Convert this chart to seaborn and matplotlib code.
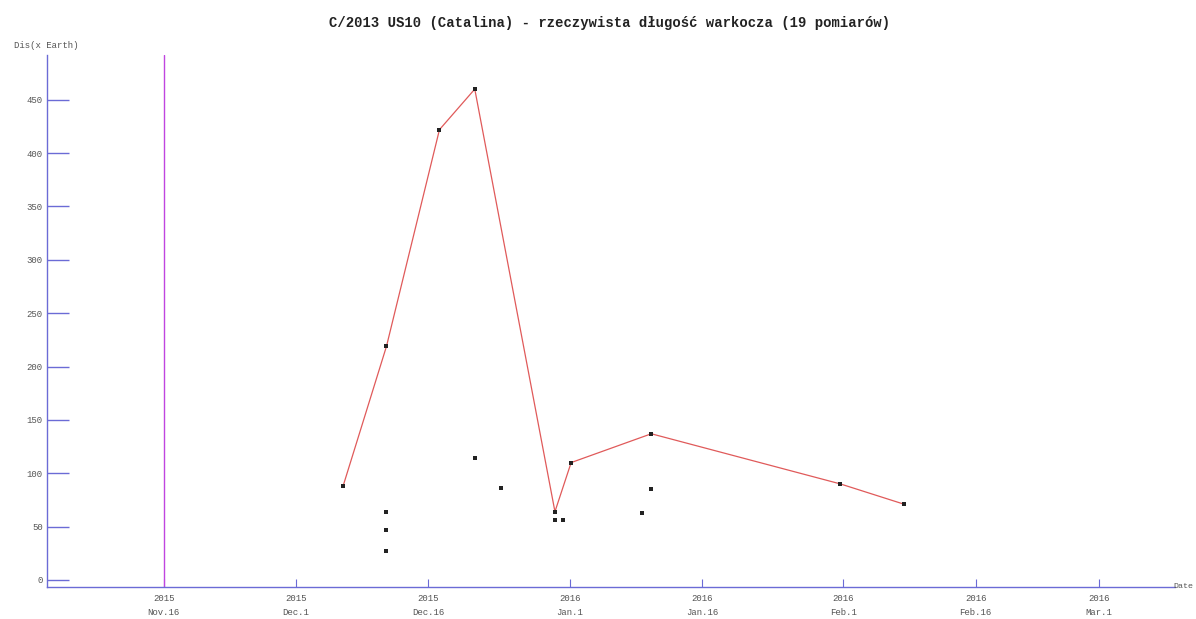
import matplotlib
matplotlib.use("Agg")
import matplotlib.pyplot as plt
import seaborn as sns
import pandas as pd

# ---- data ----
line_dates = ["2015-12-06 08:00", "2015-12-11 06:00", "2015-12-17 06:00", "2015-12-21 06:00",
              "2015-12-30 08:00", "2016-01-01 04:00", "2016-01-10 06:00", "2016-01-31 16:00",
              "2016-02-07 21:00"]
line_values = [88, 219, 422, 460, 64, 110, 137, 90, 71]

extra_dates = ["2015-12-11 06:00", "2015-12-11 06:00", "2015-12-11 06:00", "2015-12-21 06:00",
               "2015-12-24 06:00", "2015-12-30 08:00", "2015-12-31 06:00", "2016-01-09 04:00",
               "2016-01-10 06:00"]
extra_values = [64, 47, 27, 114, 86, 56, 56, 63, 85]

tick_dates = ["2015-11-16", "2015-12-01", "2015-12-16", "2016-01-01", "2016-01-16",
              "2016-02-01", "2016-02-16", "2016-03-01"]
tick_labels = ["2015\nNov.16", "2015\nDec.1", "2015\nDec.16", "2016\nJan.1",
               "2016\nJan.16", "2016\nFeb.1", "2016\nFeb.16", "2016\nMar.1"]
y_ticks = [0, 50, 100, 150, 200, 250, 300, 350, 400, 450]
marker_date = "2015-11-16"

title = "C/2013 US10 (Catalina) - rzeczywista długość warkocza (19 pomiarów)"

# ---- style ----
sns.set_theme(style="white")
plt.rcParams['font.family'] = ['Liberation Mono', 'DejaVu Sans Mono']

axis_col = "#6b6bd6"
label_col = "#555555"

fig = plt.figure(figsize=(11.96, 6.19), dpi=100)
ax = fig.add_axes([0.0393, 0.0517, 0.9431, 0.8595])

line_df = pd.DataFrame({"date": pd.to_datetime(line_dates), "value": line_values})
extra_df = pd.DataFrame({"date": pd.to_datetime(extra_dates), "value": extra_values})
all_df = pd.concat([line_df, extra_df])

sns.lineplot(data=line_df, x="date", y="value", ax=ax, color="#e05a5a",
             linewidth=0.9, zorder=2)
sns.scatterplot(data=all_df, x="date", y="value", ax=ax, color="#222222",
                marker="s", s=7, linewidth=0, zorder=3)

ax.axvline(pd.Timestamp(marker_date), color="#c045e0", linewidth=1.0, zorder=1)

ax.set_xlim(pd.Timestamp("2015-11-02 19:00"), pd.Timestamp("2016-03-09 13:40"))
ax.set_ylim(-6.6, 492)

ax.set_xticks(pd.to_datetime(tick_dates))
ax.set_xticklabels(tick_labels, linespacing=1.7)
ax.set_yticks(y_ticks)
ax.set_yticklabels([str(v) for v in y_ticks])

for s in ["top", "right"]:
    ax.spines[s].set_visible(False)
for s in ["left", "bottom"]:
    ax.spines[s].set_visible(True)
    ax.spines[s].set_color(axis_col)
    ax.spines[s].set_linewidth(1.0)

ax.tick_params(axis="y", direction="in", length=16, width=1.0, color=axis_col,
               labelsize=6.5, labelcolor=label_col, pad=3, left=True)
ax.tick_params(axis="x", direction="in", length=6, width=0.8, color=axis_col,
               labelsize=6.5, labelcolor=label_col, pad=5, bottom=True)

ax.set_xlabel("")
ax.set_ylabel("")
ax.grid(False)

fig.text(0.012, 0.927, "Dis(x Earth)", fontsize=6.5, color=label_col, ha="left", va="center")
fig.text(0.998, 0.052, "Date", fontsize=6, color=label_col, ha="right", va="center")
fig.text(0.51, 0.963, title, fontsize=10, fontweight="bold", color="#222222",
         ha="center", va="center")

fig.savefig("out.png", dpi=100, facecolor="white")
